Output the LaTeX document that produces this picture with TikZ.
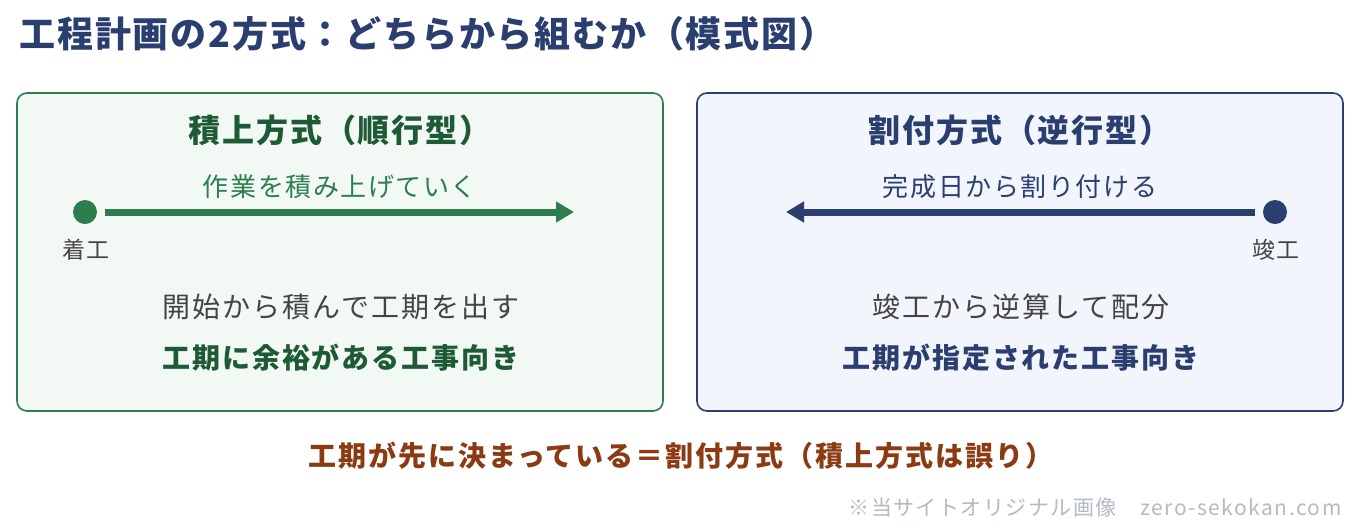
\documentclass[tikz,border=0pt]{standalone}
\usepackage{fontspec}
\setmainfont{Noto Sans CJK JP}
\usetikzlibrary{arrows.meta}
\definecolor{navy}{HTML}{2B3E70}
\definecolor{leaf}{HTML}{2E7D4E}
\definecolor{leafdark}{HTML}{1F5A36}
\definecolor{leafbg}{HTML}{F2F8F4}
\definecolor{navybg}{HTML}{F2F5FC}
\definecolor{rust}{HTML}{8B3A12}
\definecolor{txtgray}{HTML}{444444}
\definecolor{markgray}{HTML}{B4BAC4}
\tikzset{
  panel/.style={draw=#1, line width=1.6pt, rounded corners=10pt},
  dot/.style={circle, fill=#1, minimum size=24pt, inner sep=0pt},
  flow/.style={draw=#1, line width=7pt, -{Triangle[length=18pt,width=20pt]}},
  fsz/.style n args={2}{font=\fontsize{#1}{#1}\selectfont\addfontfeatures{LetterSpace=#2}},
  bsz/.style n args={2}{font=\bfseries\fontsize{#1}{#1}\selectfont\addfontfeatures{LetterSpace=#2}},
}
\begin{document}
\begin{tikzpicture}[x=1pt,y=-1pt]
\useasboundingbox[fill=white] (0,0) rectangle (1360,531);
\node[anchor=west, text=navy, bsz={36}{5}] (title) at (16,34) {工程計画の2方式：どちらから組むか（模式図）};
% left panel
\begin{scope}
\path[panel=leaf, fill=leafbg] (17,93) rectangle (663,411);
\node[text=leafdark, bsz={32}{6}] (lhead) at (340,130) {積上方式（順行型）};
\node[text=leaf, fsz={26}{6}] (lflow) at (340,187) {作業を積み上げていく};
\node[dot=leaf] (start) at (85,212) {};
\coordinate (lend) at (574,212);
\draw[flow=leaf, shorten <=8pt] (start) -- (lend);
\node[text=txtgray, fsz={23}{8}] (startlbl) at (86,250) {着工};
\node[text=txtgray, fsz={28}{7}] (lnote) at (341,307) {開始から積んで工期を出す};
\node[text=leafdark, bsz={28}{7}] (luse) at (341,358) {工期に余裕がある工事向き};
\end{scope}
% right panel
\begin{scope}
\path[panel=navy, fill=navybg] (697,93) rectangle (1343,411);
\node[text=navy, bsz={32}{6}] (rhead) at (1020,130) {割付方式（逆行型）};
\node[text=navy, fsz={26}{6}] (rflow) at (1020,187) {完成日から割り付ける};
\node[dot=navy] (finish) at (1275,212) {};
\coordinate (rend) at (786,212);
\draw[flow=navy, shorten <=8pt] (finish) -- (rend);
\node[text=txtgray, fsz={23}{8}] (finlbl) at (1276,250) {竣工};
\node[text=txtgray, fsz={28}{7}] (rnote) at (1021,307) {竣工から逆算して配分};
\node[text=navy, bsz={28}{7}] (ruse) at (1021,358) {工期が指定された工事向き};
\end{scope}
\node[text=rust, bsz={28}{7}] (verdict) at (681,456) {工期が先に決まっている＝割付方式（積上方式は誤り）};
\node[anchor=east, text=markgray, fsz={21}{7}] (mark) at (1345,508) {※当サイトオリジナル画像　zero-sekokan.com};
\end{tikzpicture}
\end{document}
